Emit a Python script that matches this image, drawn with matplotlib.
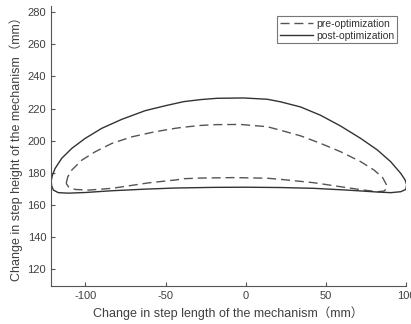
import matplotlib
matplotlib.use("Agg")
import matplotlib.pyplot as plt

plt.rcParams['font.family'] = ['Liberation Sans', 'Noto Sans CJK SC', 'DejaVu Sans']
plt.rcParams['axes.unicode_minus'] = False

# post-optimization trajectory (closed loop)
post_x = [-121.4, -120.6, -118.9, -114.8, -108.5, -100.2, -89.8, -77.3, -62.7, -50.0, -38.8, -28.0,
          -17.9, -1.3, 13.4, 21.7, 34.2, 46.7, 59.2, 71.7, 82.1, 90.4, 96.7, 99.4, 100.4, 99.8,
          96.7, 90.4, 82.1, 73.0, 63.4, 42.5, 21.7, 0.0, -20.0, -43.9, -62.7, -83.5, -100.2,
          -110.6, -116.9, -120.0, -121.1, -121.4]
post_y = [175.0, 178.5, 182.7, 189.0, 195.2, 201.4, 207.7, 213.3, 218.7, 221.8, 224.3, 225.6,
          226.4, 226.6, 225.8, 224.2, 221.0, 215.8, 209.1, 201.4, 194.2, 186.9, 179.6, 175.5, 172.5, 169.6,
          168.2, 167.6, 168.0, 168.6, 169.2, 170.3, 170.8, 171.0, 170.9, 170.5, 169.8, 168.8, 167.7,
          167.3, 167.6, 169.2, 172.0, 175.0]

# pre-optimization trajectory (closed loop)
pre_x = [-112.0, -111.0, -108.5, -102.2, -93.9, -83.5, -71.0, -56.4, -43.9, -38.8, -28.0, -17.9,
         -3.3, 13.4, 21.7, 34.2, 46.7, 59.2, 71.7, 80.0, 85.3, 87.9, 87.9, 86.3, 82.1, 73.8, 59.2,
         42.5, 21.7, 13.4, -7.5, -28.0, -38.8, -43.9, -60.0, -83.5, -98.1, -106.4, -110.6, -112.0]
pre_y = [173.4, 177.5, 181.7, 187.9, 193.1, 198.3, 202.4, 205.6, 207.7, 208.4, 209.5, 210.0,
         210.1, 208.7, 206.5, 203.0, 198.3, 193.1, 186.9, 181.7, 177.1, 172.3, 170.3, 168.6, 168.2, 169.2, 171.3,
         173.8, 175.9, 176.6, 177.0, 176.7, 176.3, 175.5, 173.8, 170.3, 169.2, 169.6, 171.3, 173.4]

x_ticks = [-100, -50, 0, 50, 100]
y_ticks = [120, 140, 160, 180, 200, 220, 240, 260, 280]

fig = plt.figure(figsize=(4.11, 3.24), dpi=100)
ax = fig.add_axes([0.124, 0.117, 0.864, 0.865])

ax.plot(pre_x, pre_y, color='#555555', lw=1.0, linestyle=(0, (6.5, 3.5)), label='pre-optimization',
        dash_capstyle='butt', solid_joinstyle='round')
ax.plot(post_x, post_y, color='#333333', lw=1.0, label='post-optimization', solid_joinstyle='round')

ax.set_xlim(-121.5, 100)
ax.set_ylim(109.4, 284)
ax.set_xticks(x_ticks)
ax.set_yticks(y_ticks)
for s in ['top', 'right']:
    ax.spines[s].set_visible(False)
for s in ['left', 'bottom']:
    ax.spines[s].set_color('#555555')
    ax.spines[s].set_linewidth(0.8)
ax.tick_params(direction='in', length=3, width=0.8, colors='#555555', labelcolor='#404040', labelsize=8)

ax.set_xlabel('Change in step length of the mechanism（mm）', fontsize=9, color='#404040', labelpad=4)
ax.set_ylabel('Change in step height of the mechanism（mm）', fontsize=9, color='#404040', labelpad=3)

leg = ax.legend(loc='upper right', bbox_to_anchor=(0.975, 0.964), fontsize=7.5, frameon=True, fancybox=False,
                edgecolor='#555555', handlelength=3.2, handletextpad=0.3, borderpad=0.25,
                labelspacing=0.2, borderaxespad=0.0)
leg.get_frame().set_linewidth(0.8)
for t in leg.get_texts():
    t.set_color('#333333')

fig.savefig('out.png', dpi=100)
